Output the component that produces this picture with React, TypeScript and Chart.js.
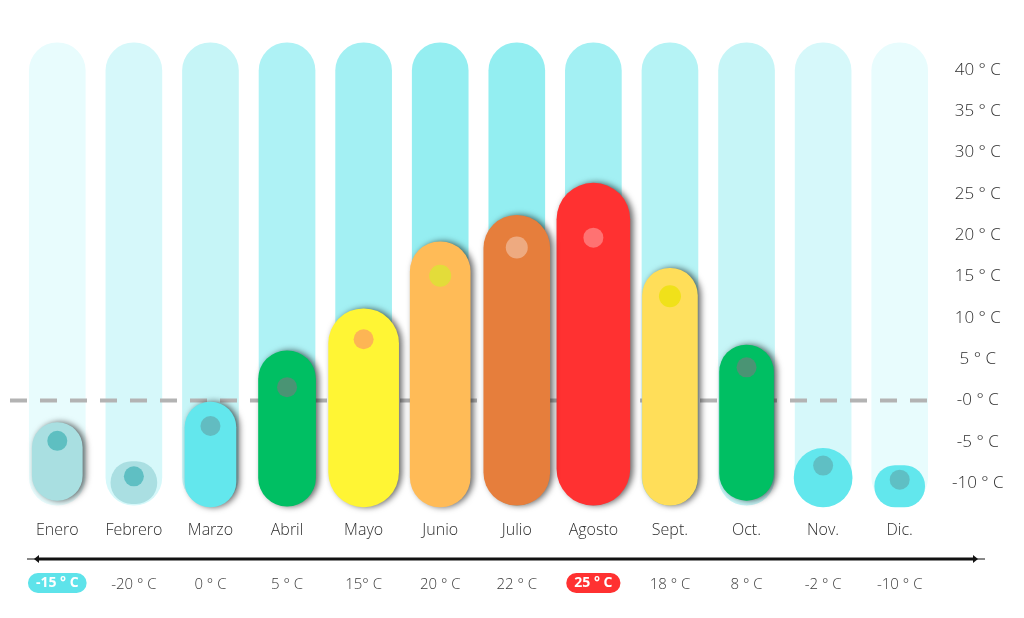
import React, { useEffect, useRef } from 'react';
import { Chart, registerables } from 'chart.js';

Chart.register(...registerables);

const months = ['Enero', 'Febrero', 'Marzo', 'Abril', 'Mayo', 'Junio', 'Julio', 'Agosto', 'Sept.', 'Oct.', 'Nov.', 'Dic.'];

// colored capsules: [low, high] in °C-scale units
const barLow = [-12.1, -12.5, -12.9, -12.8, -12.9, -12.9, -12.7, -12.7, -12.7, -12.1, -12.9, -12.9];
const barHigh = [-2.7, -7.4, -0.2, 6.0, 11.1, 19.2, 22.4, 26.3, 16.0, 6.7, -5.8, -7.9];
const barColors = ['#a9dfe1', '#aadfe2', '#63e7ed', '#00bf63', '#fff534', '#ffbb57', '#e67e3c', '#ff3131', '#ffde59', '#00bf63', '#62e7ed', '#62e7ed'];
const barWidths = [50, 46, 51, 57, 70, 60, 66, 73, 55, 54, 58, 50];
const barShadow = [true, false, true, true, true, true, true, true, true, true, false, false];

// inner dots
const dotValues = [-4.9, -9.2, -3.1, 1.6, 7.4, 15.1, 18.5, 19.7, 12.6, 4.0, -7.9, -9.6];
const dotColors = ['#5ebfc1', '#5fbfc3', '#62bcc1', '#4a9474', '#fdb554', '#e3dc3a', '#eeaa80', '#ff7272', '#f0e11a', '#4a9474', '#5fbfc4', '#5fbfc4'];
const dotRadius = [10, 10, 10, 10, 10, 11, 11, 10, 11, 10, 10, 10];

// background capsules
const bgLow = -12.7;
const bgHigh = 43.3;
const bgColors = ['#e8fcfd', '#d6f8fa', '#c6f5f7', '#aef2f5', '#a3f0f3', '#95eef1', '#93eef1', '#a3f0f3', '#b5f3f5', '#c6f5f7', '#d6f8fa', '#e8fcfd'];

// bottom temperature labels
const tempLabels = ['-15 ° C', '-20 ° C', '0 ° C', '5 ° C', '15° C', '20 ° C', '22 ° C', '25 ° C', '18 ° C', '8 ° C', '-2 ° C', '-10 ° C'];
const tempHighlight: (string | null)[] = ['#5ee3ea', null, null, null, null, null, null, '#ff3131', null, null, null, null];

// y axis
const yTickValues = [-10, -5, 0, 5, 10, 15, 20, 25, 30, 35, 40];
const yTickLabels = ['-10 ° C', '-5 ° C', '-0 ° C', '5 ° C', '10 ° C', '15 ° C', '20 ° C', '25 ° C', '30 ° C', '35 ° C', '40 ° C'];

const FONT = "'Open Sans', 'Noto Sans', sans-serif";
const BG_INDEX = months.length + 1;

const decor = {
  id: 'decor',
  beforeDatasetDraw(chart: any, args: any) {
    const i = args.index;
    if (i >= 1 && i <= months.length && barShadow[i - 1]) {
      const ctx = chart.ctx;
      ctx.save();
      ctx.shadowColor = 'rgba(0,0,0,0.6)';
      ctx.shadowBlur = 6;
      ctx.shadowOffsetX = 3;
      ctx.shadowOffsetY = 0;
    }
  },
  afterDatasetDraw(chart: any, args: any) {
    const i = args.index;
    const ctx = chart.ctx;
    if (i >= 1 && i <= months.length && barShadow[i - 1]) {
      ctx.restore();
    }
    if (i === BG_INDEX) {
      const y = chart.scales.y.getPixelForValue(0);
      const { left, right } = chart.chartArea;
      ctx.save();
      ctx.strokeStyle = '#b3b3b3';
      ctx.lineWidth = 4;
      ctx.setLineDash([17, 13]);
      ctx.beginPath();
      ctx.moveTo(left - 9, y);
      ctx.lineTo(right - 4, y);
      ctx.stroke();
      ctx.restore();
    }
  },
  afterDraw(chart: any) {
    const ctx = chart.ctx;
    const xs = chart.scales.x;
    const { left, bottom } = chart.chartArea;
    const lineY = bottom + 43;
    const x1 = left + 19;
    const x2 = chart.width - 50;
    ctx.save();
    ctx.strokeStyle = '#111';
    ctx.fillStyle = '#111';
    // thin tails
    ctx.lineWidth = 1;
    ctx.beginPath();
    ctx.moveTo(x1 - 11, lineY);
    ctx.lineTo(x2 + 11, lineY);
    ctx.stroke();
    // thick shaft
    ctx.lineWidth = 3;
    ctx.beginPath();
    ctx.moveTo(x1, lineY);
    ctx.lineTo(x2, lineY);
    ctx.stroke();
    // arrow heads
    ctx.beginPath();
    ctx.moveTo(x1 - 4, lineY);
    ctx.lineTo(x1 + 1, lineY - 4);
    ctx.lineTo(x1 + 1, lineY + 4);
    ctx.closePath();
    ctx.fill();
    ctx.beginPath();
    ctx.moveTo(x2 + 4, lineY);
    ctx.lineTo(x2 - 1, lineY - 4);
    ctx.lineTo(x2 - 1, lineY + 4);
    ctx.closePath();
    ctx.fill();

    // temperature labels
    const labelY = lineY + 24;
    ctx.textAlign = 'center';
    ctx.textBaseline = 'middle';
    tempLabels.forEach((t, i) => {
      const x = xs.getPixelForValue(i);
      const hl = tempHighlight[i];
      if (hl) {
        ctx.font = `bold 14px ${FONT}`;
        const w = ctx.measureText(t).width + 16;
        const h = 20;
        ctx.fillStyle = hl;
        ctx.beginPath();
        ctx.roundRect(x - w / 2, labelY - h / 2, w, h, 10);
        ctx.fill();
        ctx.fillStyle = '#ffffff';
        ctx.fillText(t, x, labelY);
      } else {
        ctx.font = `300 15px ${FONT}`;
        ctx.fillStyle = '#3a3a3a';
        ctx.fillText(t, x, labelY + 2);
      }
    });
    ctx.restore();
  },
};

export default function App() {
  const ref = useRef<HTMLCanvasElement>(null);
  useEffect(() => {
    const canvas = ref.current!;
    const colorDatasets = months.map((m, i) => ({
      type: 'bar' as const,
      label: m,
      data: months.map((_, j) => (j === i ? [barLow[i], barHigh[i]] : null)),
      backgroundColor: barColors[i],
      barThickness: barWidths[i],
      borderRadius: 200,
      borderSkipped: false,
      grouped: false,
      order: 1,
    }));
    const chart = new Chart(canvas, {
      type: 'bar',
      data: {
        labels: months,
        datasets: [
          {
            type: 'line',
            label: 'dots',
            data: dotValues,
            showLine: false,
            pointRadius: dotRadius,
            pointHoverRadius: dotRadius,
            pointBackgroundColor: dotColors,
            pointBorderWidth: 0,
            order: 0,
          } as any,
          ...(colorDatasets as any[]),
          {
            type: 'bar',
            label: 'fondo',
            data: months.map(() => [bgLow, bgHigh]),
            backgroundColor: bgColors,
            barThickness: 56,
            borderRadius: 200,
            borderSkipped: false,
            grouped: false,
            order: 2,
          } as any,
        ],
      },
      options: {
        responsive: false,
        animation: false,
        events: [],
        layout: { padding: { left: 19, top: 37, right: 0, bottom: 0 } },
        plugins: {
          legend: { display: false },
          tooltip: { enabled: false },
        },
        scales: {
          x: {
            grid: { display: false, drawTicks: false },
            border: { display: false },
            ticks: {
              font: { family: FONT, size: 16, weight: '300' },
              color: '#2e2e2e',
              padding: 5,
              maxRotation: 0,
              autoSkip: false,
            },
            afterFit: (s: any) => {
              s.height = 102;
            },
          },
          y: {
            position: 'right',
            min: -14,
            max: 44,
            grid: { display: false, drawTicks: false },
            border: { display: false },
            afterBuildTicks: (s: any) => {
              s.ticks = yTickValues.map((v) => ({ value: v }));
            },
            ticks: {
              font: { family: FONT, size: 17, weight: '300' },
              color: '#2e2e2e',
              crossAlign: 'center',
              padding: 14,
              callback: (_v: any, idx: number) => yTickLabels[idx],
            },
            afterFit: (s: any) => {
              s.width = 86;
            },
          },
        },
      } as any,
      plugins: [decor],
    });
    return () => chart.destroy();
  }, []);

  return (
    <div style={{ position: 'fixed', left: 0, top: 0, width: 1024, height: 618, background: '#ffffff' }}>
      <canvas ref={ref} width={1024} height={618} style={{ width: 1024, height: 618, display: 'block' }} />
    </div>
  );
}
